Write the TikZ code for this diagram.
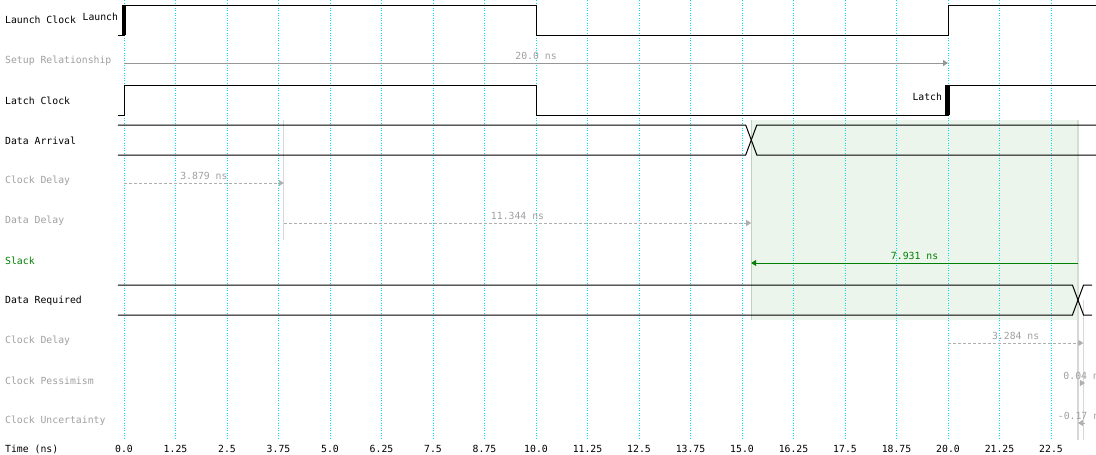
\documentclass[tikz,border=0pt]{standalone}
\usepackage{fontspec}
\setmonofont{DejaVu Sans Mono}
\usepackage{xcolor}
\usepackage{tikz}
\usetikzlibrary{arrows.meta, calc}
\definecolor{TDGrid}{RGB}{0, 225, 235}
\definecolor{TDWave}{RGB}{0, 0, 0}
\definecolor{TDMuted}{RGB}{160, 160, 160}
\definecolor{TDArrow}{RGB}{150, 150, 150}
\definecolor{TDDash}{RGB}{175, 175, 175}
\definecolor{TDSlack}{RGB}{0, 128, 0}
\definecolor{TDShade}{RGB}{235, 245, 235}
\definecolor{TDShadeEdge}{RGB}{190, 210, 190}
\definecolor{TDEdge}{RGB}{215, 215, 215}

\tikzset{
  tdfont/.style={font=\ttfamily\fontsize{9.8}{12}\selectfont},
  rowlabel/.style={tdfont, anchor=west, inner sep=0pt},
  mutedlabel/.style={rowlabel, text=TDMuted},
  ticklabel/.style={tdfont, inner sep=0pt},
  vallabel/.style={tdfont, inner sep=0pt, above=3pt, text=TDMuted},
  gridline/.style={TDGrid, line width=1pt, dash pattern=on 1pt off 1.5pt},
  wave/.style={TDWave, line width=1pt},
  bus/.style={TDWave, line width=1pt},
  setuparrow/.style={TDArrow, line width=1pt, -{Triangle[length=5pt, width=6pt]}},
  delayarrow/.style={TDDash, line width=1pt, dash pattern=on 3pt off 2pt, -{Triangle[length=5pt, width=6pt]}},
  slackarrow/.style={TDSlack, line width=1pt, -{Triangle[length=5pt, width=6pt]}},
  edgeline/.style={TDEdge, line width=1.2pt}
}

\begin{document}
\begin{tikzpicture}[x=1pt, y=-1pt]
    \path[use as bounding box] (0,0) rectangle (1096,455);
    \fill[white] (0,0) rectangle (1096,455);

    % row names
    \node[rowlabel] (lbl-launch) at (5,20) {Launch Clock};
    \node[mutedlabel] (lbl-setup) at (5,61) {Setup Relationship};
    \node[rowlabel] (lbl-latch) at (5,101) {Latch Clock};
    \node[rowlabel] (lbl-arrival) at (5,141) {Data Arrival};
    \node[mutedlabel] (lbl-clkdelay) at (5,181) {Clock Delay};
    \node[mutedlabel] (lbl-datadelay) at (5,221) {Data Delay};
    \node[rowlabel, text=TDSlack] (lbl-slack) at (5,261) {Slack};
    \node[rowlabel] (lbl-required) at (5,301) {Data Required};
    \node[mutedlabel] (lbl-clkdelay2) at (5,341) {Clock Delay};
    \node[mutedlabel] (lbl-pessimism) at (5,381) {Clock Pessimism};
    \node[mutedlabel] (lbl-uncert) at (5,421) {Clock Uncertainty};
    \node[rowlabel] (lbl-time) at (5,449) {Time (ns)};

    % time axis in ns from here on
    \begin{scope}[xshift=124pt, x=41.2pt]
      \fill[TDShade] (15.223,120) rectangle (23.154,320);
      \draw[TDShadeEdge, line width=1.2pt] (15.223,120) -- (15.223,320);
      \draw[TDShadeEdge!70, line width=1.2pt] (23.154,120) -- (23.154,320);

      \foreach \t in {0.0,1.25,2.5,3.75,5.0,6.25,7.5,8.75,10.0,11.25,12.5,13.75,15.0,16.25,17.5,18.75,20.0,21.25,22.5} {
        \draw[gridline] (\t,0) -- (\t,440);
        \node[ticklabel] (tick-\t) at (\t,449) {\t};
      }

      % edges of delays
      \draw[edgeline] (3.879,120) -- (3.879,240);
      \draw[edgeline] (23.154,320) -- (23.154,440);
      \draw[edgeline] (23.284,300) -- (23.284,440);

      % launch clock
      \draw[wave] (-0.15,35) -- (0,35) -- (0,5) -- (10,5) -- (10,35) -- (20,35) -- (20,5) -- (23.6,5);
      \fill[TDWave] (-0.05,5) rectangle (0.06,35);
      \node[tdfont, anchor=east, inner sep=0pt] (launch-tag) at (-0.14,17) {Launch};

      % latch clock
      \draw[wave] (-0.15,115) -- (0,115) -- (0,85) -- (10,85) -- (10,115) -- (20,115) -- (20,85) -- (23.6,85);
      \fill[TDWave] (19.93,85) rectangle (20.05,115);
      \node[tdfont, anchor=east, inner sep=0pt] (latch-tag) at (19.86,97) {Latch};

      % data arrival
      \draw[bus] (-0.15,125) -- (15.09,125) -- (15.36,155) -- (23.6,155);
      \draw[bus] (-0.15,155) -- (15.09,155) -- (15.36,125) -- (23.6,125);

      % data required
      \draw[bus] (-0.15,285) -- (23.02,285) -- (23.29,315) -- (23.5,315);
      \draw[bus] (-0.15,315) -- (23.02,315) -- (23.29,285) -- (23.5,285);

      % arrows
      \coordinate (setup-a) at (0,63);
      \coordinate (setup-b) at (20,63);
      \draw[setuparrow] (setup-a) -- node[vallabel] (setup-val) {20.0 ns} (setup-b);

      \coordinate (clk-a) at (0,183);
      \coordinate (clk-b) at (3.879,183);
      \draw[delayarrow] (clk-a) -- node[vallabel] (clk-val) {3.879 ns} (clk-b);

      \coordinate (data-a) at (3.879,223);
      \coordinate (data-b) at (15.223,223);
      \draw[delayarrow] (data-a) -- node[vallabel] (data-val) {11.344 ns} (data-b);

      \coordinate (slack-a) at (23.154,263);
      \coordinate (slack-b) at (15.223,263);
      \draw[slackarrow] (slack-a) -- node[vallabel, text=TDSlack] (slack-val) {7.931 ns} (slack-b);

      \coordinate (clk2-a) at (20,343);
      \coordinate (clk2-b) at (23.284,343);
      \draw[delayarrow] (clk2-a) -- node[vallabel] (clk2-val) {3.284 ns} (clk2-b);

      \coordinate (pess-a) at (23.284,383);
      \coordinate (pess-b) at (23.324,383);
      \draw[delayarrow] (pess-a) -- node[vallabel] (pess-val) {0.04 ns} (pess-b);

      \coordinate (unc-a) at (23.324,423);
      \coordinate (unc-b) at (23.154,423);
      \draw[delayarrow] (unc-a) -- node[vallabel] (unc-val) {-0.17 ns} (unc-b);
    \end{scope}
\end{tikzpicture}
\end{document}
